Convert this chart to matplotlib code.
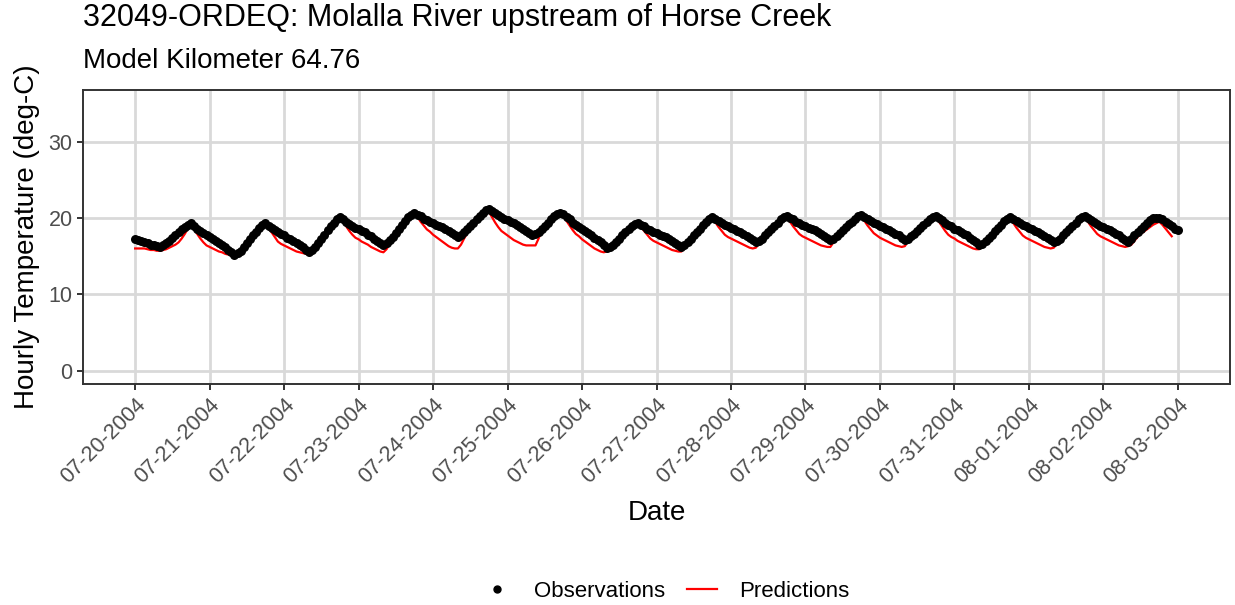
import numpy as np
import pandas as pd
import matplotlib
matplotlib.use("Agg")
import matplotlib.pyplot as plt
from matplotlib.lines import Line2D

plt.rcParams['font.family'] = ['Liberation Sans', 'DejaVu Sans']

# Temperaturas horarias observadas (una lista por dia, 07-20 a 08-02, mas la hora final)
obs_dias = [
    [17.2, 17.1, 17.0, 16.8, 16.7, 16.5, 16.4, 16.3, 16.2, 16.4, 16.7, 17.0, 17.4, 17.8, 18.1, 18.5, 18.8, 19.1, 19.3, 19.0, 18.6, 18.3, 18.0, 17.8],
    [17.5, 17.2, 17.0, 16.7, 16.4, 16.2, 15.8, 15.5, 15.1, 15.4, 15.7, 16.2, 16.7, 17.2, 17.7, 18.2, 18.7, 19.1, 19.3, 19.0, 18.7, 18.4, 18.1, 17.9],
    [17.7, 17.4, 17.2, 17.0, 16.7, 16.5, 16.2, 15.8, 15.5, 15.8, 16.2, 16.7, 17.3, 17.8, 18.4, 18.9, 19.4, 19.8, 20.1, 19.8, 19.5, 19.2, 19.0, 18.7],
    [18.5, 18.3, 18.1, 17.8, 17.6, 17.3, 17.0, 16.7, 16.4, 16.7, 17.1, 17.5, 18.0, 18.6, 19.1, 19.6, 20.1, 20.4, 20.7, 20.4, 20.2, 19.9, 19.7, 19.5],
    [19.3, 19.1, 18.9, 18.8, 18.5, 18.3, 18.0, 17.8, 17.5, 17.7, 18.1, 18.5, 18.9, 19.4, 19.8, 20.2, 20.7, 21.0, 21.2, 20.9, 20.6, 20.4, 20.1, 19.9],
    [19.7, 19.5, 19.3, 19.1, 18.8, 18.6, 18.3, 18.0, 17.7, 17.9, 18.2, 18.6, 19.0, 19.4, 19.8, 20.2, 20.5, 20.6, 20.5, 20.1, 19.8, 19.4, 19.1, 18.8],
    [18.6, 18.3, 18.0, 17.8, 17.4, 17.1, 16.8, 16.4, 16.0, 16.2, 16.5, 16.9, 17.3, 17.7, 18.1, 18.5, 18.9, 19.2, 19.4, 19.1, 18.9, 18.6, 18.4, 18.2],
    [18.0, 17.8, 17.6, 17.5, 17.2, 17.0, 16.7, 16.5, 16.2, 16.4, 16.8, 17.2, 17.7, 18.2, 18.6, 19.1, 19.5, 19.9, 20.1, 19.8, 19.6, 19.3, 19.1, 18.9],
    [18.7, 18.5, 18.3, 18.1, 17.9, 17.6, 17.4, 17.1, 16.8, 17.0, 17.3, 17.7, 18.1, 18.6, 19.0, 19.4, 19.8, 20.1, 20.3, 20.0, 19.8, 19.5, 19.3, 19.1],
    [18.9, 18.7, 18.5, 18.4, 18.1, 17.9, 17.6, 17.4, 17.1, 17.3, 17.6, 18.0, 18.4, 18.8, 19.2, 19.5, 19.9, 20.2, 20.4, 20.1, 19.9, 19.6, 19.4, 19.2],
    [19.0, 18.8, 18.6, 18.4, 18.2, 17.9, 17.7, 17.4, 17.1, 17.3, 17.6, 17.9, 18.3, 18.7, 19.1, 19.5, 19.8, 20.1, 20.3, 20.0, 19.7, 19.4, 19.1, 18.9],
    [18.6, 18.4, 18.2, 17.9, 17.7, 17.4, 17.1, 16.8, 16.4, 16.6, 17.0, 17.4, 17.8, 18.3, 18.7, 19.1, 19.6, 19.9, 20.1, 19.8, 19.6, 19.3, 19.1, 18.9],
    [18.7, 18.5, 18.3, 18.1, 17.9, 17.6, 17.4, 17.1, 16.8, 17.0, 17.3, 17.7, 18.1, 18.6, 19.0, 19.4, 19.8, 20.1, 20.3, 20.0, 19.7, 19.5, 19.2, 19.0],
    [18.8, 18.6, 18.4, 18.2, 17.9, 17.7, 17.4, 17.1, 16.8, 17.2, 17.7, 18.2, 18.6, 18.9, 19.3, 19.7, 20.0, 20.0, 20.0, 19.8, 19.5, 19.2, 18.9, 18.6],
    [18.4],
]

# Temperaturas horarias predichas por el modelo
pred_dias = [
    [16.0, 16.0, 16.0, 16.0, 15.9, 15.8, 15.8, 15.7, 15.7, 15.8, 15.9, 16.1, 16.3, 16.5, 16.8, 17.3, 17.9, 18.6, 19.0, 18.5, 17.9, 17.3, 16.8, 16.4],
    [16.2, 16.0, 15.8, 15.6, 15.5, 15.3, 15.2, 15.1, 15.0, 15.2, 15.6, 16.1, 16.6, 17.1, 17.6, 18.1, 18.6, 19.0, 19.2, 18.7, 18.1, 17.5, 16.9, 16.6],
    [16.4, 16.2, 16.0, 15.8, 15.6, 15.5, 15.4, 15.3, 15.2, 15.6, 16.1, 16.6, 17.2, 17.7, 18.3, 18.8, 19.3, 19.7, 20.0, 19.5, 18.9, 18.3, 17.8, 17.4],
    [17.2, 16.9, 16.7, 16.5, 16.2, 16.0, 15.8, 15.6, 15.5, 15.9, 16.6, 17.3, 17.9, 18.5, 19.0, 19.5, 20.0, 20.3, 20.6, 20.1, 19.5, 19.0, 18.5, 18.2],
    [17.8, 17.5, 17.2, 16.9, 16.6, 16.3, 16.1, 16.0, 16.0, 16.5, 17.3, 18.0, 18.7, 19.2, 19.7, 20.1, 20.5, 20.8, 20.8, 20.1, 19.4, 18.8, 18.3, 18.0],
    [17.7, 17.4, 17.1, 16.9, 16.7, 16.5, 16.4, 16.4, 16.4, 16.4, 17.3, 18.4, 18.9, 19.3, 19.7, 20.1, 20.4, 20.5, 20.3, 19.6, 19.0, 18.4, 17.9, 17.6],
    [17.2, 16.9, 16.6, 16.3, 16.0, 15.8, 15.6, 15.5, 15.6, 15.9, 16.3, 16.8, 17.2, 17.6, 18.0, 18.4, 18.8, 19.1, 19.3, 18.8, 18.3, 17.8, 17.3, 17.0],
    [16.8, 16.6, 16.4, 16.2, 16.0, 15.8, 15.7, 15.6, 15.6, 16.0, 16.6, 17.1, 17.6, 18.1, 18.5, 19.0, 19.4, 19.8, 19.9, 19.4, 18.8, 18.3, 17.8, 17.5],
    [17.3, 17.1, 16.9, 16.7, 16.5, 16.3, 16.1, 16.0, 16.1, 16.6, 17.2, 17.6, 18.0, 18.5, 18.9, 19.3, 19.7, 20.0, 20.1, 19.5, 18.9, 18.4, 17.9, 17.6],
    [17.4, 17.2, 17.0, 16.8, 16.6, 16.4, 16.3, 16.2, 16.2, 16.8, 17.4, 17.9, 18.3, 18.7, 19.1, 19.4, 19.8, 20.1, 20.2, 19.6, 19.0, 18.5, 18.0, 17.7],
    [17.4, 17.2, 17.0, 16.8, 16.6, 16.4, 16.3, 16.2, 16.3, 16.9, 17.4, 17.8, 18.2, 18.6, 19.0, 19.4, 19.7, 20.0, 20.1, 19.5, 18.9, 18.3, 17.8, 17.5],
    [17.3, 17.0, 16.8, 16.6, 16.4, 16.2, 16.0, 15.9, 15.9, 16.3, 16.8, 17.3, 17.7, 18.2, 18.6, 19.0, 19.5, 19.8, 19.9, 19.3, 18.7, 18.2, 17.7, 17.4],
    [17.2, 17.0, 16.8, 16.6, 16.4, 16.2, 16.1, 16.0, 16.1, 16.6, 17.2, 17.6, 18.0, 18.5, 18.9, 19.3, 19.7, 20.0, 20.1, 19.5, 18.9, 18.4, 17.9, 17.6],
    [17.4, 17.2, 17.0, 16.8, 16.6, 16.4, 16.3, 16.2, 16.3, 16.5, 17.0, 17.5, 17.9, 18.2, 18.5, 18.8, 19.1, 19.3, 19.5, 19.1, 18.6, 18.1, 17.6],
]

inicio = "2004-07-20 00:00"
fechas_ticks = pd.date_range("2004-07-20", "2004-08-03", freq="D")

obs = [v for dia in obs_dias for v in dia]
pred = [v for dia in pred_dias for v in dia]
t_obs = pd.date_range(inicio, periods=len(obs), freq="h")
t_pred = pd.date_range(inicio, periods=len(pred), freq="h")

fig = plt.figure(figsize=(12.35, 6.05), dpi=100)
ax = fig.add_axes([0.0672, 0.3653, 0.9288, 0.4859])

grid_col = "#D9D9D9"
ax.set_axisbelow(True)
ax.grid(True, color=grid_col, linewidth=2.0)

ax.scatter(t_obs, obs, s=42, color="black", zorder=3, linewidths=0)
ax.plot(t_pred, pred, color="red", linewidth=1.6, zorder=2)

# limites con la expansion del 5% al estilo ggplot
t0 = pd.Timestamp("2004-07-20")
t1 = pd.Timestamp("2004-08-03")
pad = (t1 - t0) * 0.05
ax.set_xlim(t0 - pad, t1 + pad)
ax.set_ylim(-1.75, 36.75)
ax.set_yticks([0, 10, 20, 30])
ax.set_xticks(fechas_ticks)
ax.set_xticklabels([d.strftime("%m-%d-%Y") for d in fechas_ticks],
                   rotation=45, ha="right", rotation_mode="anchor")

for s in ax.spines.values():
    s.set_color("#333333")
    s.set_linewidth(1.4)
ax.tick_params(axis="both", colors="#333333", length=4.5, width=1.4,
               labelcolor="#4D4D4D", labelsize=15.5)
ax.tick_params(axis="x", pad=3)
ax.tick_params(axis="y", pad=3)

ax.set_xlabel("Date", fontsize=20, labelpad=9)
ax.set_ylabel("Hourly Temperature (deg-C)", fontsize=20, labelpad=6)

fig.text(0.0672, 0.970, "32049-ORDEQ: Molalla River upstream of Horse Creek",
         fontsize=22, ha="left", va="center")
fig.text(0.0672, 0.900, "Model Kilometer 64.76", fontsize=20, ha="left", va="center")

handles = [
    Line2D([], [], marker="o", linestyle="none", color="black", markersize=5),
    Line2D([], [], color="red", linewidth=1.6),
]
fig.legend(handles, ["Observations", "Predictions"], loc="center",
           bbox_to_anchor=(0.539, 0.022), ncol=2, frameon=False, fontsize=16,
           handlelength=1.35, columnspacing=1.0, handletextpad=1.0)

fig.savefig("out.png", dpi=100)
